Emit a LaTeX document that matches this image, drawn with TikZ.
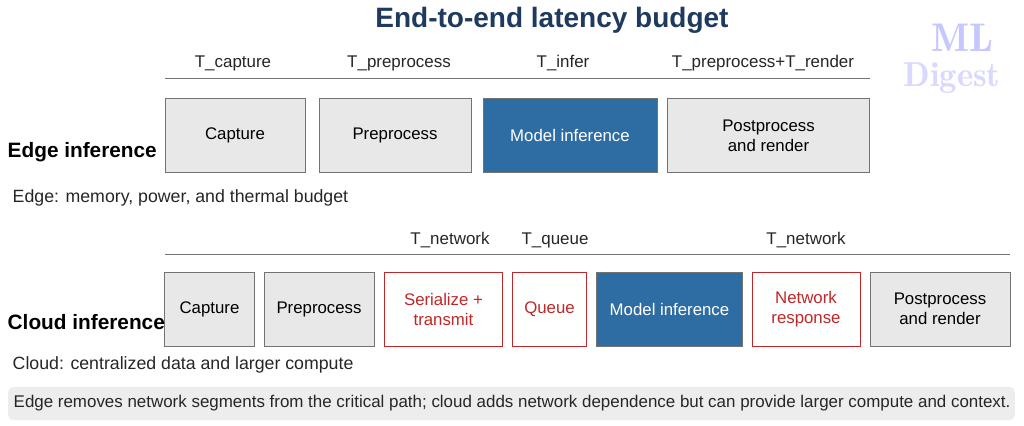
\documentclass[tikz,border=0pt]{standalone}
\usepackage{fontspec}
\setmainfont{Liberation Sans}
\begin{document}
\begin{tikzpicture}[x=0.75pt,y=-0.75pt,
 box/.style={draw=black!55,fill=gray!18,line width=0.7pt,align=center,font=\fontsize{12.6}{15}\selectfont,inner sep=0pt},
 blue/.style={box,draw=black!55,fill={rgb,255:red,46;green,109;blue,164},text=white},
 red/.style={box,draw={rgb,255:red,190;green,40;blue,40},fill=white,text={rgb,255:red,190;green,40;blue,40}},
 lbl/.style={font=\fontsize{12.7}{14}\selectfont,text=black!85},
 note/.style={font=\fontsize{13.3}{15}\selectfont,anchor=west,text=black!85},
 head/.style={font=\bfseries\fontsize{15.6}{17}\selectfont,anchor=west}]
\useasboundingbox (0,0) rectangle (1024,425);
\fill[white] (0,0) rectangle (1024,425);
\node (title) at (552,20) {\bfseries\fontsize{21}{24}\selectfont\color[RGB]{31,58,95}End-to-end latency budget};
\node[text=blue!22,font=\fontfamily{lmr}\bfseries\fontsize{30}{32}\selectfont] (lg1) at (962,38) {ML};
\node[text=blue!15,font=\fontfamily{lmr}\bfseries\fontsize{26}{28}\selectfont] (lg2) at (952,78) {Digest};
% edge
\coordinate (e1) at (165,78); \coordinate (e2) at (870,78);
\draw[black!55,line width=0.7pt] (e1) -- (e2);
\node[lbl] (t1) at (233,63) {T\_capture};
\node[lbl] (t2) at (399,63) {T\_preprocess};
\node[lbl] (t3) at (563,63) {T\_infer};
\node[lbl] (t4) at (763,63) {T\_preprocess+T\_render};
\node[box,minimum width=105pt,minimum height=56pt] (ec) at (235,135.5) {Capture};
\node[box,minimum width=114pt,minimum height=56pt] (ep) at (395,135.5) {Preprocess};
\node[blue,minimum width=130.5pt,minimum height=56pt] (em) at (570,135.5) {Model inference};
\node[box,minimum width=152pt,minimum height=56pt] (er) at (768.5,135.5) {Postprocess\\and render};
\node[head] (eh) at (3,152) {Edge inference};
\node[note] (en) at (8,198) {Edge: memory, power, and thermal budget};
% cloud
\coordinate (c1) at (165,254); \coordinate (c2) at (1010,254);
\draw[black!55,line width=0.7pt] (c1) -- (c2);
\node[lbl] (n1) at (450,240) {T\_network};
\node[lbl] (n2) at (555,240) {T\_queue};
\node[lbl] (n3) at (806,240) {T\_network};
\node[box,minimum width=67pt,minimum height=55.5pt] (cc) at (209.5,309) {Capture};
\node[box,minimum width=82.5pt,minimum height=55.5pt] (cp) at (319,309) {Preprocess};
\node[red,minimum width=89pt,minimum height=55.5pt] (cs) at (443.5,309) {Serialize +\\transmit};
\node[red,minimum width=55pt,minimum height=55.5pt] (cq) at (549.5,309) {Queue};
\node[blue,minimum width=109pt,minimum height=55.5pt] (cm) at (669.5,309) {Model inference};
\node[red,minimum width=81pt,minimum height=55.5pt] (cn) at (806,309) {Network\\response};
\node[box,minimum width=105pt,minimum height=55.5pt] (cr) at (940,309) {Postprocess\\and render};
\node[head] (ch) at (3,322) {Cloud inference};
\node[note] (cnn) at (8,365) {Cloud: centralized data and larger compute};
% bottom
\node[fill=gray!14,rounded corners=4pt,minimum width=755pt,minimum height=25pt,inner sep=0pt] (bb) at (511.5,403.5) {};
\node[note,font=\fontsize{12.7}{15}\selectfont] (bt) at (9,403.5) {Edge removes network segments from the critical path; cloud adds network dependence but can provide larger compute and context.};
\end{tikzpicture}
\end{document}
